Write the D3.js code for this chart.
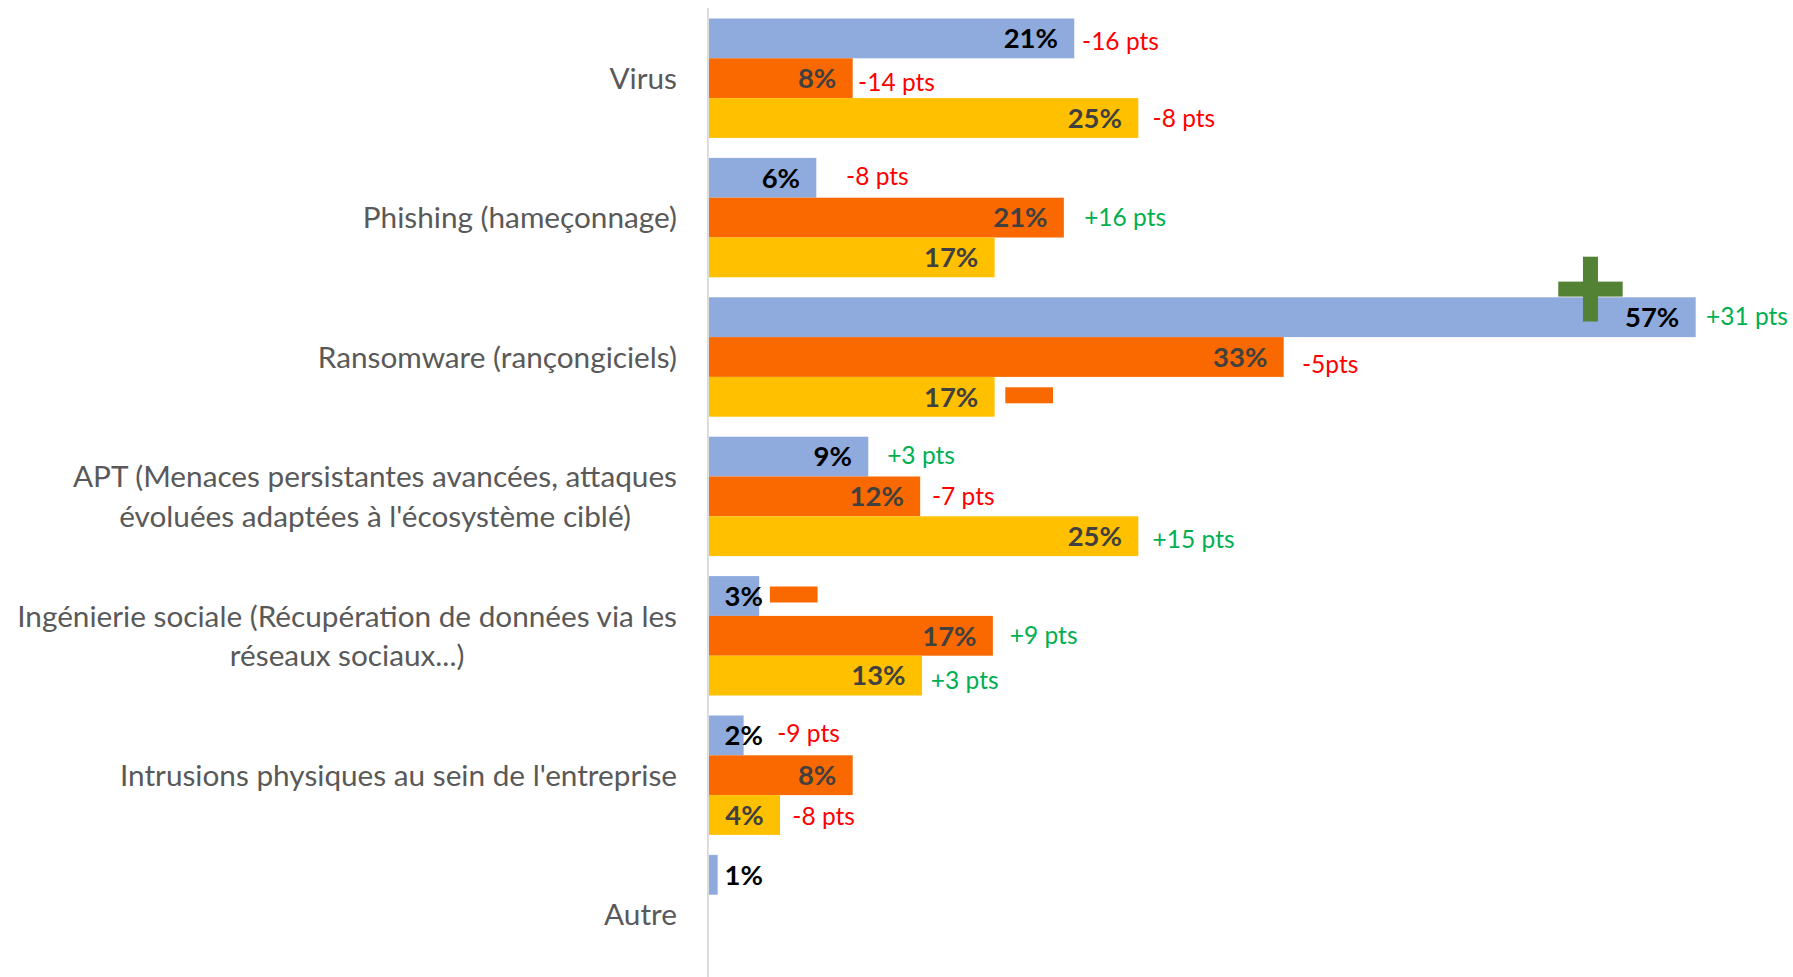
<!DOCTYPE html>
<html><head><meta charset="utf-8">
<script src="https://cdn.jsdelivr.net/npm/d3@7"></script>
<style>html,body{margin:0;padding:0;background:#fff;} svg{display:block}</style>
</head><body>
<svg id="chart" width="1793" height="977"></svg>
<script>
// ---------- DATA ----------
const categories = [
  "Virus",
  "Phishing (hameçonnage)",
  "Ransomware (rançongiciels)",
  "APT (Menaces persistantes avancées, attaques évoluées adaptées à l'écosystème ciblé)",
  "Ingénierie sociale (Récupération de données via les réseaux sociaux...)",
  "Intrusions physiques au sein de l'entreprise",
  "Autre"
];
const categoryLines = [
  ["Virus"],
  ["Phishing (hameçonnage)"],
  ["Ransomware (rançongiciels)"],
  ["APT (Menaces persistantes avancées, attaques", "évoluées adaptées à l'écosystème ciblé)"],
  ["Ingénierie sociale (Récupération de données via les", "réseaux sociaux...)"],
  ["Intrusions physiques au sein de l'entreprise"],
  ["Autre"]
];
const seriesNames = ["Série 1", "Série 2", "Série 3"];
const valuesBlue   = [21.1, 6.2, 57.0, 9.2, 2.9, 2.0, 0.5];
const valuesOrange = [8.3, 20.5, 33.2, 12.2, 16.4, 8.3, null];
const valuesYellow = [24.8, 16.5, 16.5, 24.8, 12.3, 4.1, null];
const labelsBlue   = ["21%", "6%", "57%", "9%", "3%", "2%", "1%"];
const labelsOrange = ["8%", "21%", "33%", "12%", "17%", "8%", null];
const labelsYellow = ["25%", "17%", "17%", "25%", "13%", "4%", null];
const changesBlue   = ["-16 pts", "-8 pts", "+31 pts", "+3 pts", null, "-9 pts", null];
const changesOrange = ["-14 pts", "+16 pts", "-5pts", "-7 pts", "+9 pts", null, null];
const changesYellow = ["-8 pts", null, null, "+15 pts", "+3 pts", "-8 pts", null];
// trend markers: [category index, series index, type]
const markers = [[2, 0, "plus"], [2, 2, "minus"], [4, 0, "minus"]];

// ---------- LAYOUT / STYLE ----------
const colors = ["#8FAADC", "#F96900", "#FFC000"];
const labelColors = ["#000000", "#404040", "#404040"];
const changeNudgeX = [
  [7.8, 29.7, 10.3, 18.9, 0, 33.6, 0],
  [5.4, 20.3, 18.3, 11.8, 16.9, 0, 0],
  [14.3, 0, 0, 14.3, 8.9, 12.4, 0]
];
const changeNudgeY = [
  [2.6, -1.5, -1.3, -1.6, 0, -2, 0],
  [3.8, 0, 7.5, 0, -0.8, 0, 0],
  [0, 0, 0, 3, 4.4, 1.7, 0]
];
const FONT = "Lato, 'Open Sans', 'DejaVu Sans', sans-serif";

const svg = d3.select("#chart");
const allValues = [valuesBlue, valuesOrange, valuesYellow];
const allLabels = [labelsBlue, labelsOrange, labelsYellow];
const allChanges = [changesBlue, changesOrange, changesYellow];

function measure(weight, size, sample) {
  const t = svg.append("text").attr("font-family", FONT).attr("font-weight", weight)
    .attr("font-size", size).text(sample);
  const w = t.node().getComputedTextLength();
  t.remove();
  return w;
}
// fit substitute font widths to the original metrics
function fitSize(weight, sample, target) {
  return 100 * target / measure(weight, 100, sample);
}
const catSize = fitSize(400, "Ingénierie sociale (Récupération de données via les", 660);
const valSize = fitSize(700, "21%", 54.3);
const chgSize = fitSize(400, "-16 pts", 76.9);
const CAP = 0.7165;

const x = d3.scaleLinear().domain([0, 60]).range([709, 709 + 60 * 17.31]);
const y = d3.scaleBand().domain(d3.range(categories.length))
  .range([8.5, 8.5 + 7 * 139.4]).paddingInner(0.1435).paddingOuter(0.07175);
const ys = d3.scaleBand().domain([0, 1, 2]).range([0, y.bandwidth()]);

// axis line
svg.append("line").attr("x1", 707.9).attr("x2", 707.9).attr("y1", 8).attr("y2", 977)
  .attr("stroke", "#D9D9D9").attr("stroke-width", 1.8);

// category labels (wrapped lines centred within a right-aligned block)
const catG = svg.append("g");
const labelRight = 677;
categoryLines.forEach((lines, i) => {
  const cy = y(i) + y.bandwidth() / 2;
  const lh = 39.5;
  const maxW = d3.max(lines, ln => measure(400, catSize, ln));
  const cx = labelRight - maxW / 2;
  lines.forEach((ln, j) => {
    const c = cy + (j - (lines.length - 1) / 2) * lh;
    catG.append("text").attr("x", cx).attr("y", c + CAP * catSize / 2)
      .attr("text-anchor", "middle").attr("font-family", FONT).attr("font-size", catSize)
      .attr("fill", "#595959").text(ln);
  });
});

// bars, labels, changes
allValues.forEach((vals, s) => {
  const g = svg.append("g");
  vals.forEach((v, i) => {
    if (v == null) return;
    const top = y(i) + ys(s);
    const h = ys.bandwidth();
    g.append("rect").attr("x", x(0)).attr("y", top)
      .attr("width", x(v) - x(0)).attr("height", h).attr("fill", colors[s]);
  });
  vals.forEach((v, i) => {
    if (v == null) return;
    const cy = y(i) + ys(s) + ys.bandwidth() / 2;
    const lab = allLabels[s][i];
    if (lab) {
      const t = g.append("text").attr("font-family", FONT).attr("font-weight", 700)
        .attr("font-size", valSize).attr("fill", labelColors[s]).attr("text-anchor", "end")
        .attr("y", cy + CAP * valSize / 2).text(lab);
      const w = t.node().getComputedTextLength();
      t.attr("x", Math.max(x(v) - 16.3, x(0) + 15.5 + w));
    }
    const ch = allChanges[s][i];
    if (ch) {
      g.append("text").attr("font-family", FONT).attr("font-size", chgSize)
        .attr("fill", ch.startsWith("+") ? "#00B050" : "#FF0000")
        .attr("x", x(v) + changeNudgeX[s][i])
        .attr("y", cy + changeNudgeY[s][i] + CAP * chgSize / 2).text(ch);
    }
  });
});

// trend markers
markers.forEach(([i, s, type]) => {
  const v = allValues[s][i];
  const top = y(i) + ys(s);
  if (type === "plus") {
    const cx = x(v) - 105.2, cy = top - 8.2;
    svg.append("rect").attr("x", cx - 32.2).attr("y", cy - 7.5).attr("width", 64.4).attr("height", 15).attr("fill", "#548235");
    svg.append("rect").attr("x", cx - 7.5).attr("y", cy - 32.4).attr("width", 15).attr("height", 64.8).attr("fill", "#548235");
  } else {
    const cy = top + ys.bandwidth() / 2 - 1.5;
    svg.append("rect").attr("x", x(v) + 10.7).attr("y", cy - 8).attr("width", 47.7).attr("height", 16).attr("fill", colors[1]);
  }
});
</script>
</body></html>
